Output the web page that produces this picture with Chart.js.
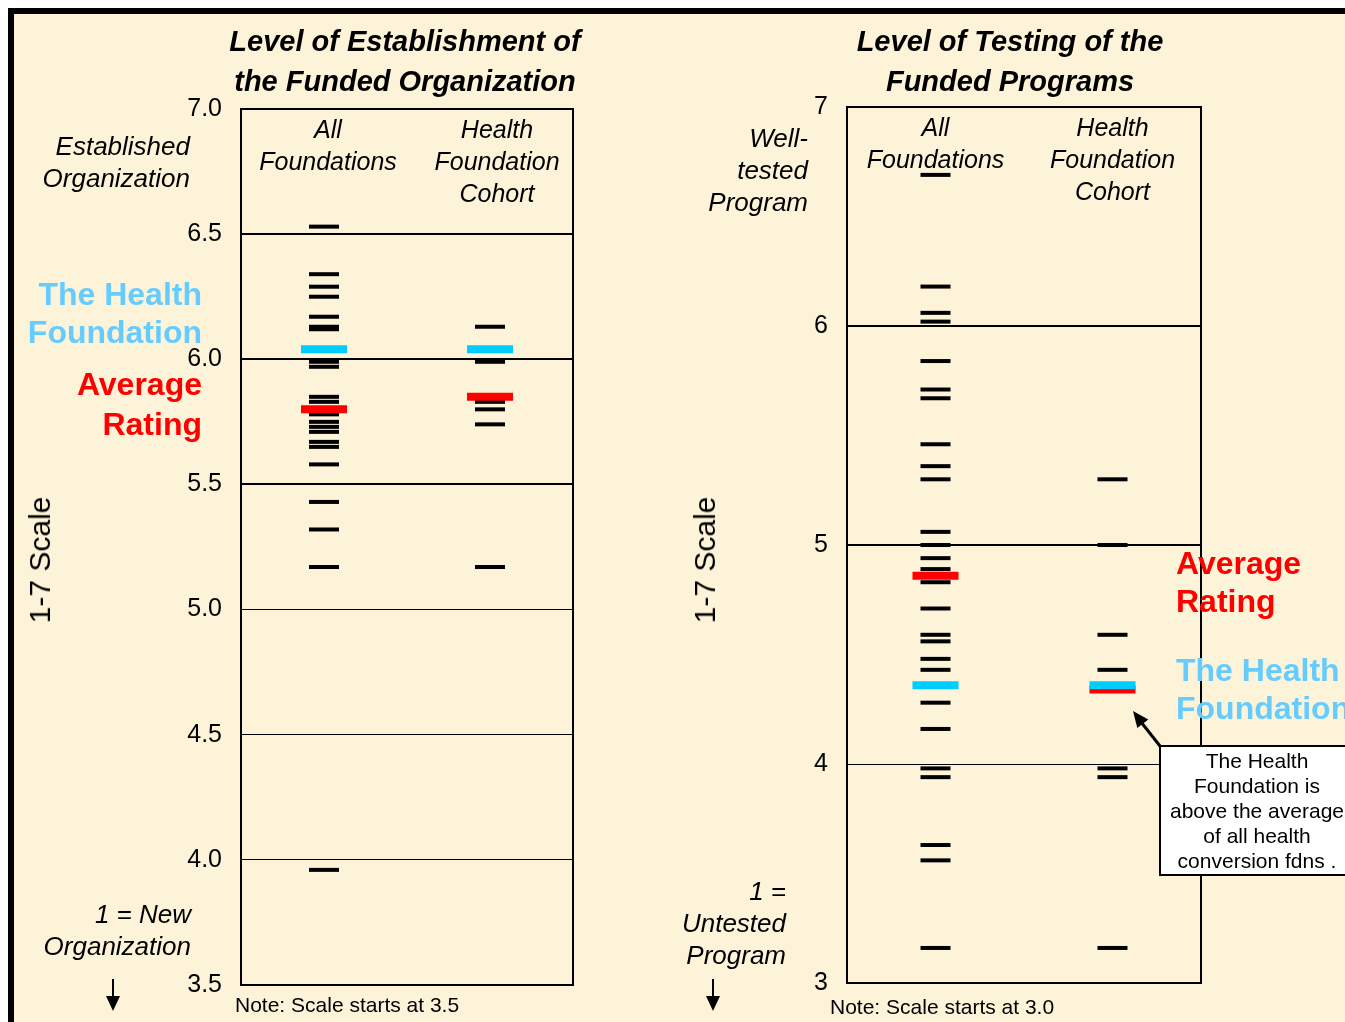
<!DOCTYPE html>
<html>
<head>
<meta charset="utf-8">
<script src="https://cdn.jsdelivr.net/npm/chart.js@4.4.0/dist/chart.umd.min.js"></script>
<style>
body { margin:0; background:#fff; width:1345px; height:1022px; overflow:hidden; font-family:"Liberation Sans", Arial, sans-serif; color:#000; }
#page { position:absolute; left:8px; top:8px; width:1345px; height:1022px; border-top:6px solid #000; border-left:6px solid #000; background:#FDF3D9; }
canvas { position:absolute; top:0; }
.t { position:absolute; white-space:nowrap; }
.ttl { font-weight:bold; font-style:italic; font-size:29px; line-height:40px; text-align:center; width:420px; }
.it { font-style:italic; font-size:26px; line-height:32px; text-align:right; }
.big { font-weight:bold; font-size:32px; }
.red { color:#FF0000; }
.blue { color:#66CCFF; }
.scale { font-size:30px; transform:translate(-50%,-50%) rotate(-90deg); }
.note { font-size:21px; line-height:24px; }
#callout { position:absolute; left:1159px; top:745px; width:192px; height:126px; border:2px solid #000; background:#fff; font-size:21px; line-height:25px; text-align:center; padding-top:1px; }
</style>
</head>
<body>
<div id="page"></div>
<canvas id="chart_establishment" width="672" height="1022" style="left:0px"></canvas>
<canvas id="chart_testing" width="673" height="1022" style="left:672px"></canvas>

<!-- left panel texts -->
<div class="t ttl" style="left:195px; top:21px">Level of Establishment of<br>the Funded Organization</div>
<div class="t it" style="right:1155px; top:130px">Established<br>Organization</div>
<div class="t big blue" style="right:1143px; top:275px; line-height:38px; text-align:right">The Health<br>Foundation</div>
<div class="t big red" style="right:1143px; top:364px; line-height:40px; text-align:right">Average<br>Rating</div>
<div class="t scale" style="left:40px; top:560px">1-7 Scale</div>
<div class="t it" style="right:1154px; top:898px">1 = New<br>Organization</div>
<div class="t note" style="left:235px; top:993px">Note: Scale starts at 3.5</div>

<!-- right panel texts -->
<div class="t ttl" style="left:800px; top:21px">Level of Testing of the<br>Funded Programs</div>
<div class="t it" style="right:537px; top:122px">Well-<br>tested<br>Program</div>
<div class="t scale" style="left:705px; top:560px">1-7 Scale</div>
<div class="t it" style="right:559px; top:875px">1 =<br>Untested<br>Program</div>
<div class="t note" style="left:830px; top:995px">Note: Scale starts at 3.0</div>
<div class="t big red" style="left:1176px; top:544px; line-height:38px">Average<br>Rating</div>
<div class="t big blue" style="left:1176px; top:651px; line-height:38px">The Health<br>Foundation</div>
<div id="callout">The Health<br>Foundation is<br>above the average<br>of all health<br>conversion fdns .</div>

<svg width="1345" height="1022" style="position:absolute; left:0; top:0">
  <line x1="113" y1="979" x2="113" y2="998" stroke="#000" stroke-width="2"/>
  <polygon points="106,996 120,996 113,1011" fill="#000"/>
  <line x1="713" y1="979" x2="713" y2="998" stroke="#000" stroke-width="2"/>
  <polygon points="706,996 720,996 713,1011" fill="#000"/>
  <line x1="1160" y1="746" x2="1141" y2="722" stroke="#000" stroke-width="3"/>
  <polygon points="1133,711 1148.3,719.4 1137.3,728" fill="#000"/>
</svg>

<script>
// categories (columns)
var categories = ['All Foundations', 'Health Foundation Cohort'];
var columnLabels = [['All', 'Foundations'], ['Health', 'Foundation', 'Cohort']];

// Level of establishment (1-7 scale, shown 3.5 - 7.0)
var estTicks = [3.5, 4.0, 4.5, 5.0, 5.5, 6.0, 6.5, 7.0];
var estAll = [6.53, 6.34, 6.29, 6.25, 6.17, 6.13, 6.12, 5.99, 5.97, 5.85, 5.83, 5.78, 5.75, 5.73,
              5.71, 5.67, 5.65, 5.58, 5.43, 5.32, 5.17, 3.96];
var estCohort = [6.13, 5.99, 5.83, 5.80, 5.74, 5.17];
var estAverage = [5.80, 5.85];
var estHealthFdn = [6.04, 6.04];

// Level of testing (1-7 scale, shown 3 - 7)
var testTicks = [3, 4, 5, 6, 7];
var testAll = [6.69, 6.18, 6.06, 6.02, 5.84, 5.71, 5.67, 5.46, 5.36, 5.30, 5.06, 5.00, 4.94, 4.89,
               4.83, 4.71, 4.59, 4.56, 4.48, 4.43, 4.28, 4.16, 3.98, 3.94, 3.63, 3.56, 3.16];
var testCohort = [5.30, 5.00, 4.59, 4.43, 3.98, 3.94, 3.16];
var testAverage = [4.86, 4.34];
var testHealthFdn = [4.36, 4.36];

function points(vals, cat) {
    return vals.map(function (v) { return { x: cat, y: v }; });
}
function pairPoints(vals) {
    return vals.map(function (v, i) { return { x: categories[i], y: v }; });
}

// box round the plot + column headings
var panelPlugin = {
    id: 'panel',
    beforeDatasetsDraw: function (chart) {
        var ctx = chart.ctx, a = chart.chartArea, xs = chart.scales.x;
        var shift = chart.options.labelShift || [0, 0];
        ctx.save();
        ctx.fillStyle = '#000';
        ctx.font = 'italic 25px "Liberation Sans", Arial';
        ctx.textAlign = 'center';
        ctx.textBaseline = 'middle';
        columnLabels.forEach(function (lines, i) {
            var x = xs.getPixelForValue(i) + shift[i];
            lines.forEach(function (s, j) {
                ctx.fillText(s, x, a.top + 22 + j * 32);
            });
        });
        ctx.restore();
    },
    afterDraw: function (chart) {
        var ctx = chart.ctx, a = chart.chartArea;
        ctx.save();
        ctx.strokeStyle = '#000';
        ctx.lineWidth = 2;
        ctx.strokeRect(a.left, a.top, a.right - a.left, a.bottom - a.top);
        ctx.restore();
    }
};

function makePanel(canvasId, ticks, all, cohort, avg, thf, pad, thick, shift, fmt) {
    var ctx = document.getElementById(canvasId).getContext('2d');
    return new Chart(ctx, {
        type: 'scatter',
        data: {
            labels: categories,
            datasets: [
                { label: 'The Health Foundation', data: pairPoints(thf), order: 0,
                  pointStyle: 'line', pointRadius: 23, pointBorderWidth: 8, pointBorderColor: '#00CCFF' },
                { label: 'Average Rating', data: pairPoints(avg), order: 1,
                  pointStyle: 'line', pointRadius: 23, pointBorderWidth: 8, pointBorderColor: '#FF0000' },
                { label: categories[0], data: points(all, categories[0]), order: 2,
                  pointStyle: 'line', pointRadius: 15, pointBorderWidth: 4, pointBorderColor: '#000' },
                { label: categories[1], data: points(cohort, categories[1]), order: 2,
                  pointStyle: 'line', pointRadius: 15, pointBorderWidth: 4, pointBorderColor: '#000' }
            ]
        },
        options: {
            responsive: false,
            maintainAspectRatio: false,
            animation: false,
            devicePixelRatio: 1,
            events: [],
            labelShift: shift,
            layout: { padding: pad },
            plugins: { legend: { display: false }, tooltip: { enabled: false } },
            scales: {
                x: { type: 'category', offset: true, display: false },
                y: {
                    min: ticks[0],
                    max: ticks[ticks.length - 1],
                    afterBuildTicks: function (s) { s.ticks = ticks.map(function (v) { return { value: v }; }); },
                    afterFit: function (s) { s.width = 80; },
                    border: { display: false },
                    grid: {
                        color: '#000',
                        drawTicks: false,
                        lineWidth: function (c) { return c.tick && c.tick.value >= thick ? 2 : 1; }
                    },
                    ticks: {
                        padding: 19,
                        color: '#000',
                        font: { family: '"Liberation Sans", Arial', size: 25 },
                        callback: fmt
                    }
                }
            }
        },
        plugins: [panelPlugin]
    });
}

makePanel('chart_establishment', estTicks, estAll, estCohort, estAverage, estHealthFdn,
    { left: 161, right: 99, top: 109, bottom: 37 }, 5.5, [4, 7],
    function (v) { return Number(v).toFixed(1); });

makePanel('chart_testing', testTicks, testAll, testCohort, testAverage, testHealthFdn,
    { left: 95, right: 144, top: 107, bottom: 39 }, 5, [0, 0],
    function (v) { return String(v); });
</script>
</body>
</html>
